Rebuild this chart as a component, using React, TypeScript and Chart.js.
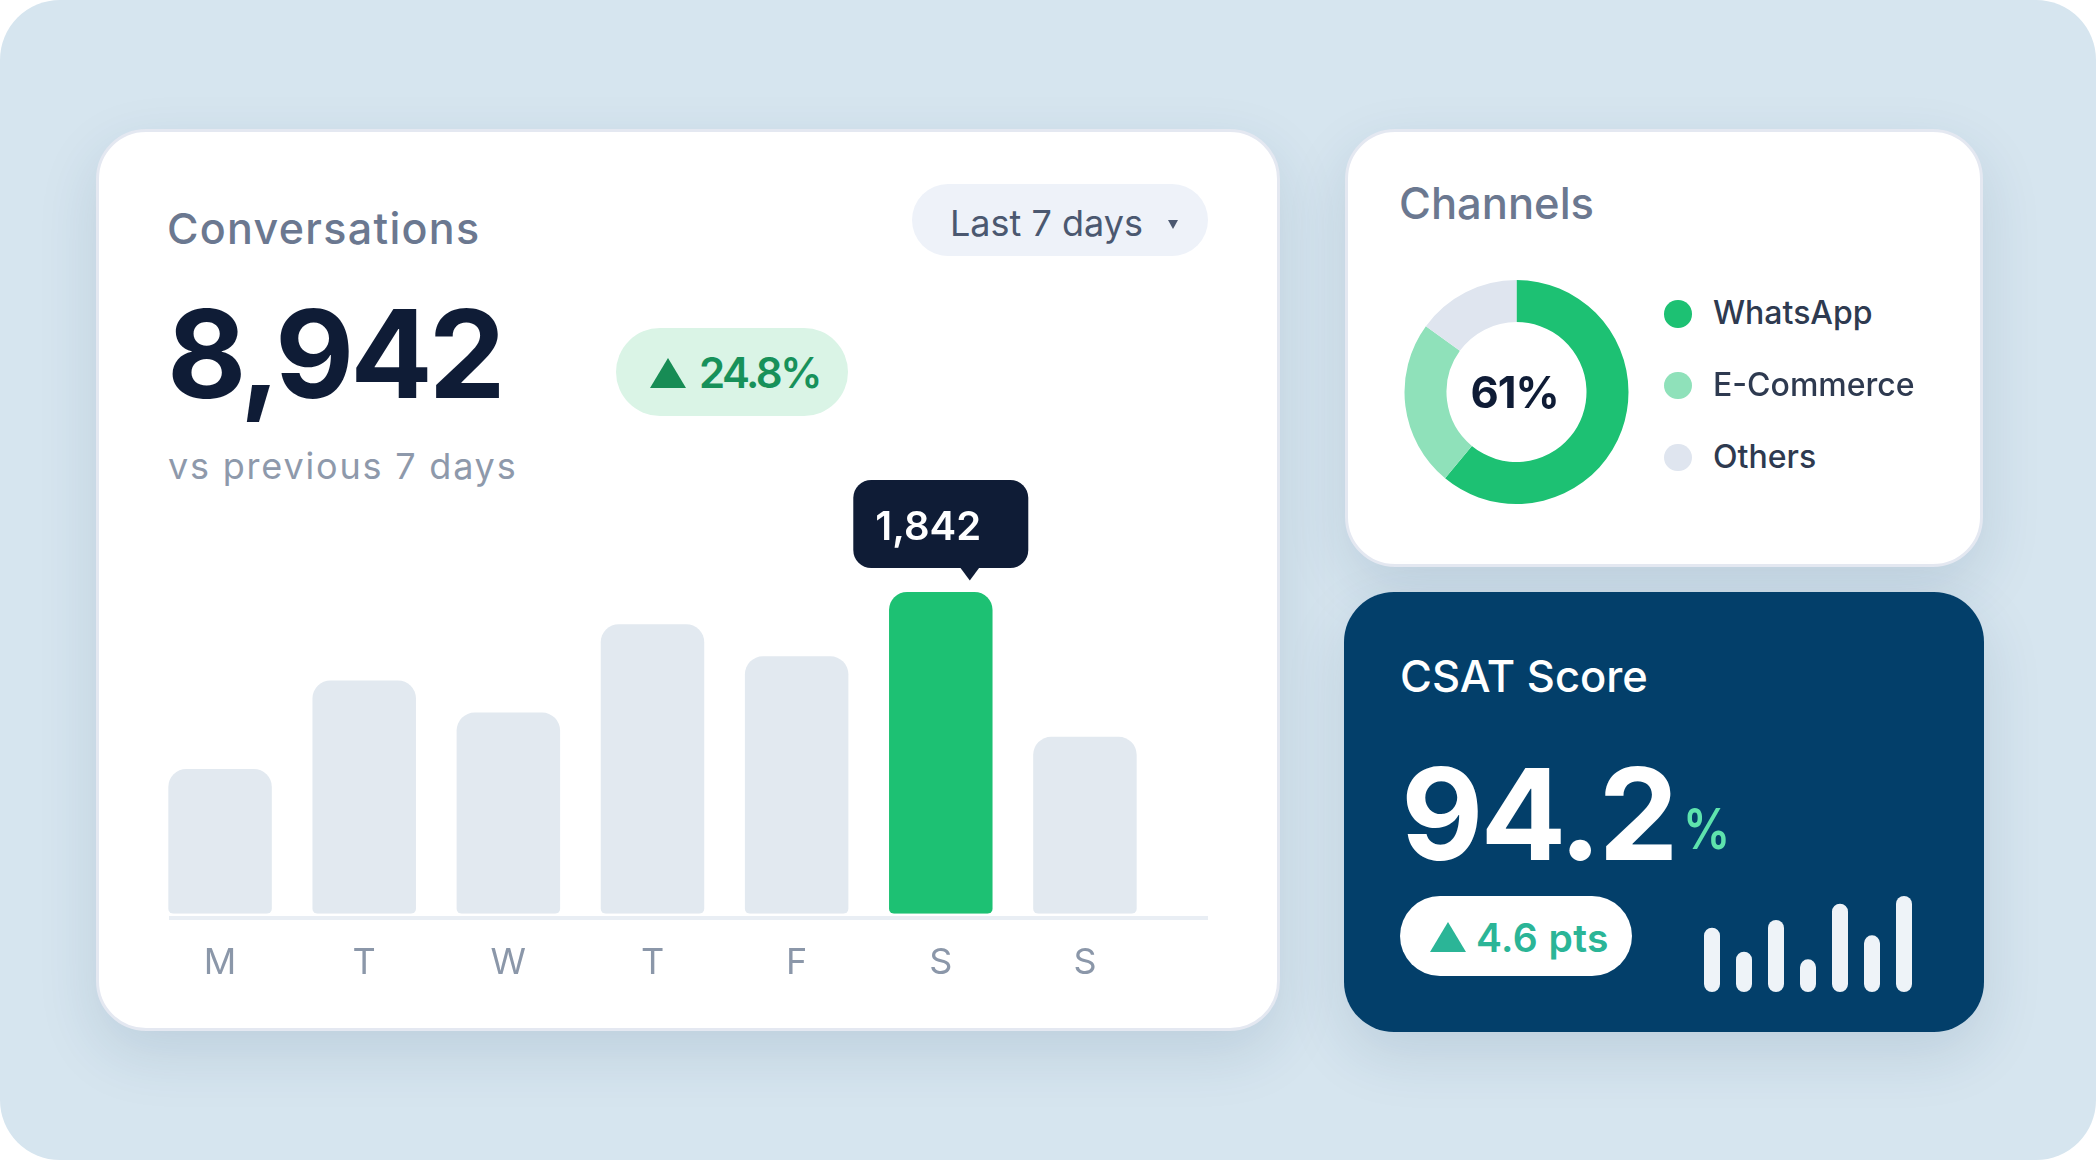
import React, { useEffect, useRef } from 'react';
import { Chart, registerables } from 'chart.js';

Chart.register(...registerables);

// ---- data ----
const dayLabels = ['M', 'T', 'W', 'T', 'F', 'S', 'S'];
const dailyConversations = [829, 1336, 1152, 1658, 1474, 1842, 1013];
const totalConversations = 8942;
const conversationChange = 24.8;
const periodLabel = 'Last 7 days';

const channelNames = ['WhatsApp', 'E-Commerce', 'Others'];
const channelShares = [61, 24, 15];
const channelColors = ['#1dc173', '#8fe1ba', '#dfe5ef'];

const csatScore = 94.2;
const csatChange = 4.6;
const csatTrend = [67, 42, 75, 34, 92, 59, 100];

const FONT = "Inter, 'Noto Sans', sans-serif";
const NAVY = '#0f1c36';

// places text by its alphabetic baseline (line-height 1 with Inter metrics)
function Txt(props: {
  x: number;
  base: number;
  size: number;
  weight?: number;
  color: string;
  children: React.ReactNode;
  ls?: number;
  align?: 'left' | 'center';
  w?: number;
  sx?: number;
}) {
  const { x, base, size, weight = 400, color, children, ls = 0, align = 'left', w, sx } = props;
  return (
    <div
      style={{
        position: 'absolute',
        left: x,
        top: base - size * 0.8633,
        width: w,
        fontFamily: FONT,
        fontSize: size,
        lineHeight: `${size}px`,
        fontWeight: weight,
        color,
        letterSpacing: ls,
        whiteSpace: 'nowrap',
        textAlign: align,
        transform: sx ? `scaleX(${sx})` : undefined,
        transformOrigin: 'left center',
      }}
    >
      {children}
    </div>
  );
}

function Tri(props: { x: number; y: number; w: number; h: number; color: string; down?: boolean }) {
  const { x, y, w, h, color, down } = props;
  return (
    <div
      style={{
        position: 'absolute',
        left: x,
        top: y,
        width: 0,
        height: 0,
        borderLeft: `${w / 2}px solid transparent`,
        borderRight: `${w / 2}px solid transparent`,
        [down ? 'borderTop' : 'borderBottom']: `${h}px solid ${color}`,
      }}
    />
  );
}

function Card(props: { x: number; y: number; w: number; h: number; bg: string; border?: boolean }) {
  const { x, y, w, h, bg, border } = props;
  return (
    <div
      style={{
        position: 'absolute',
        left: x,
        top: y,
        width: w,
        height: h,
        boxSizing: 'border-box',
        borderRadius: 50,
        background: bg,
        border: border ? '3px solid #e4e8f1' : 'none',
        boxShadow: '0 22px 60px rgba(20, 60, 100, 0.13)',
      }}
    />
  );
}

function roundRectPath(ctx: CanvasRenderingContext2D, x: number, y: number, w: number, h: number, r: number) {
  ctx.beginPath();
  ctx.moveTo(x + r, y);
  ctx.lineTo(x + w - r, y);
  ctx.arcTo(x + w, y, x + w, y + r, r);
  ctx.lineTo(x + w, y + h - r);
  ctx.arcTo(x + w, y + h, x + w - r, y + h, r);
  ctx.lineTo(x + r, y + h);
  ctx.arcTo(x, y + h, x, y + h - r, r);
  ctx.lineTo(x, y + r);
  ctx.arcTo(x, y, x + r, y, r);
  ctx.closePath();
}

function ConversationsChart() {
  const ref = useRef<HTMLCanvasElement>(null);
  useEffect(() => {
    const peak = dailyConversations.indexOf(Math.max(...dailyConversations));
    // dark value tag above the busiest day
    const peakTag = {
      id: 'peakTag',
      afterDatasetsDraw(chart: any) {
        const bar = chart.getDatasetMeta(0).data[peak];
        if (!bar) return;
        const ctx: CanvasRenderingContext2D = chart.ctx;
        const w = 175;
        const h = 88;
        const left = bar.x - w / 2;
        const top = bar.y - 112;
        ctx.save();
        ctx.fillStyle = NAVY;
        roundRectPath(ctx, left, top, w, h, 18);
        ctx.fill();
        const px = bar.x + 29;
        ctx.beginPath();
        ctx.moveTo(px - 10, top + h - 1);
        ctx.lineTo(px + 10, top + h - 1);
        ctx.lineTo(px, top + h + 12.5);
        ctx.closePath();
        ctx.fill();
        ctx.fillStyle = '#ffffff';
        ctx.font = `600 40px ${FONT}`;
        ctx.textBaseline = 'alphabetic';
        ctx.textAlign = 'left';
        ctx.fillText(dailyConversations[peak].toLocaleString('en-US'), left + 22, top + 60);
        ctx.restore();
      },
    };
    const chart = new Chart(ref.current!, {
      type: 'bar',
      data: {
        labels: dayLabels,
        datasets: [
          {
            data: dailyConversations,
            backgroundColor: dailyConversations.map((_, i) => (i === peak ? '#1dc173' : '#e2e9f0')),
            borderRadius: { topLeft: 18, topRight: 18, bottomLeft: 5, bottomRight: 5 },
            borderSkipped: false,
            barPercentage: 0.718,
            categoryPercentage: 1,
          },
        ],
      },
      options: {
        responsive: false,
        animation: false,
        events: [],
        layout: { padding: { top: 122, left: 0, right: 0, bottom: 0 } },
        plugins: { legend: { display: false }, tooltip: { enabled: false } },
        scales: {
          x: {
            grid: { display: false, drawTicks: false },
            border: { display: false },
            ticks: {
              color: '#8b97a9',
              font: { family: FONT, size: 36, weight: 400 },
              padding: 28,
              maxRotation: 0,
              autoSkip: false,
            },
          },
          y: { display: false, min: 0, max: Math.max(...dailyConversations) },
        },
      },
      plugins: [peakTag],
    });
    return () => chart.destroy();
  }, []);
  return (
    <canvas
      ref={ref}
      width={1009}
      height={543}
      style={{ position: 'absolute', left: 148, top: 470, width: 1009, height: 543 }}
    />
  );
}

function ChannelsDonut() {
  const ref = useRef<HTMLCanvasElement>(null);
  useEffect(() => {
    const chart = new Chart(ref.current!, {
      type: 'doughnut',
      data: {
        labels: channelNames,
        datasets: [
          { data: channelShares, backgroundColor: channelColors, borderWidth: 0, hoverOffset: 0 },
        ],
      },
      options: {
        responsive: false,
        animation: false,
        events: [],
        cutout: '62.5%',
        plugins: { legend: { display: false }, tooltip: { enabled: false } },
      },
    });
    return () => chart.destroy();
  }, []);
  return (
    <canvas
      ref={ref}
      width={225}
      height={224}
      style={{ position: 'absolute', left: 1404, top: 280, width: 225, height: 224 }}
    />
  );
}

function CsatSparkBars() {
  const ref = useRef<HTMLCanvasElement>(null);
  useEffect(() => {
    const chart = new Chart(ref.current!, {
      type: 'bar',
      data: {
        labels: dayLabels,
        datasets: [
          {
            data: csatTrend,
            backgroundColor: '#eef3f8',
            borderRadius: 8,
            borderSkipped: false,
            barPercentage: 0.5,
            categoryPercentage: 1,
          },
        ],
      },
      options: {
        responsive: false,
        animation: false,
        events: [],
        layout: { padding: 0 },
        plugins: { legend: { display: false }, tooltip: { enabled: false } },
        scales: {
          x: { display: false },
          y: { display: false, min: 0, max: 100 },
        },
      },
    });
    return () => chart.destroy();
  }, []);
  return (
    <canvas
      ref={ref}
      width={224}
      height={96}
      style={{ position: 'absolute', left: 1696, top: 896, width: 224, height: 96 }}
    />
  );
}

export default function App() {
  const legendBase = [325, 396.8, 468.6];
  return (
    <div
      style={{
        position: 'fixed',
        left: 0,
        top: 0,
        width: 2096,
        height: 1160,
        background: '#ffffff',
        overflow: 'hidden',
      }}
    >
      <div
        style={{
          position: 'absolute',
          left: 0,
          top: 0,
          width: 2096,
          height: 1160,
          borderRadius: 60,
          background: '#d6e5ef',
        }}
      />

      {/* Conversations card */}
      <Card x={96} y={129} w={1184} h={902} bg="#ffffff" border />
      <Txt x={167} base={244} size={43} weight={500} color="#6b7890" ls={1.3}>
        Conversations
      </Txt>
      <div
        style={{
          position: 'absolute',
          left: 912,
          top: 184,
          width: 296,
          height: 72,
          borderRadius: 36,
          background: '#eef2f9',
        }}
      />
      <Txt x={950} base={235.7} size={36} weight={400} color="#4b5870">
        {periodLabel}
      </Txt>
      <Tri x={1168} y={220} w={10} h={9} color="#4b5870" down />

      <Txt x={167} base={398.7} size={122} weight={700} color={NAVY} ls={-4}>
        {totalConversations.toLocaleString('en-US')}
      </Txt>
      <div
        style={{
          position: 'absolute',
          left: 616,
          top: 328,
          width: 232,
          height: 88,
          borderRadius: 44,
          background: '#daf4e6',
        }}
      />
      <Tri x={650} y={357.7} w={37} h={30.7} color="#178c55" />
      <Txt x={699} base={388.3} size={42} weight={600} color="#17915a" ls={-2.5}>
        {conversationChange.toFixed(1)}%
      </Txt>
      <Txt x={168} base={479} size={36} weight={400} color="#8e99ab" ls={1.8}>
        vs previous 7 days
      </Txt>

      <div
        style={{
          position: 'absolute',
          left: 169,
          top: 916,
          width: 1039,
          height: 4,
          background: '#e9eef4',
        }}
      />
      <ConversationsChart />

      {/* Channels card */}
      <Card x={1345} y={129} w={638} h={438} bg="#ffffff" border />
      <Txt x={1399} base={220} size={43.5} weight={500} color="#6b7890">
        Channels
      </Txt>
      <ChannelsDonut />
      <Txt x={1414.7} w={200} align="center" base={408.3} size={43.5} weight={700} color={NAVY} ls={-1}>
        {channelShares[0]}%
      </Txt>
      {channelNames.map((name, i) => (
        <React.Fragment key={name}>
          <div
            style={{
              position: 'absolute',
              left: 1664,
              top: legendBase[i] - 11.2 - 13.85,
              width: 27.7,
              height: 27.7,
              borderRadius: '50%',
              background: channelColors[i],
            }}
          />
          <Txt x={1713} base={legendBase[i]} size={32} weight={500} color="#2e3a50">
            {name}
          </Txt>
        </React.Fragment>
      ))}

      {/* CSAT card */}
      <Card x={1344} y={592} w={640} h={440} bg="#033f6a" />
      <Txt x={1400} base={692.3} size={43.5} weight={500} color="#ffffff">
        CSAT Score
      </Txt>
      <Txt x={1401} base={860.7} size={127} weight={700} color="#ffffff" ls={-3}>
        {csatScore.toFixed(1)}
      </Txt>
      <Txt x={1683} base={849} size={56} weight={600} color="#5ee3ad" sx={0.84}>
        %
      </Txt>
      <div
        style={{
          position: 'absolute',
          left: 1400,
          top: 896,
          width: 232,
          height: 80,
          borderRadius: 40,
          background: '#ffffff',
        }}
      />
      <Tri x={1430} y={922} w={37} h={30} color="#2bb597" />
      <Txt x={1476} base={951.5} size={39} weight={600} color="#2bb597" ls={0.4}>
        {csatChange.toFixed(1)} pts
      </Txt>
      <CsatSparkBars />
    </div>
  );
}
